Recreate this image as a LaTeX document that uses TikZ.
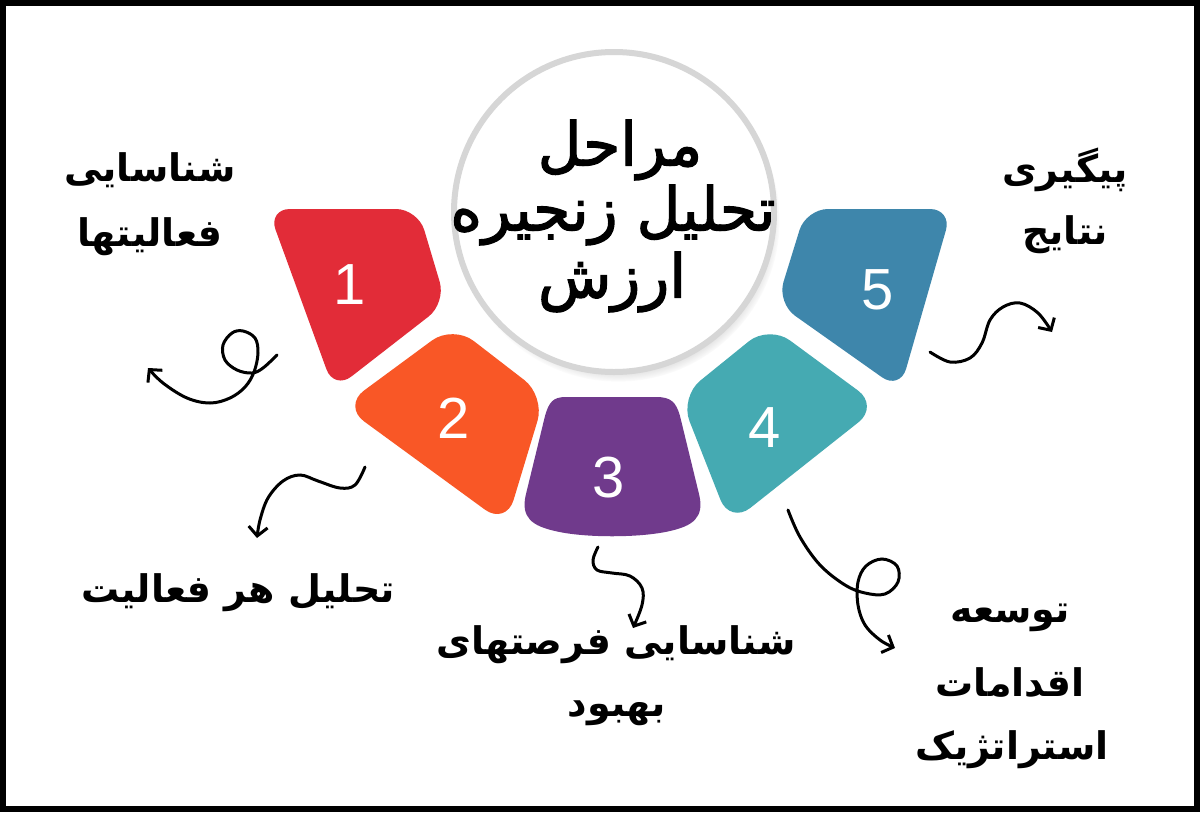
\documentclass[tikz,border=0pt]{standalone}
\usepackage{fontspec}
\usetikzlibrary{arrows.meta,shadows}
\TeXXeTstate=1
\newfontfamily\fa[Script=Arabic]{DejaVu Sans}
\newfontfamily\fatitle[Script=Arabic,FakeBold=2.2]{DejaVu Sans}
\newfontfamily\numfont{Liberation Sans}
\definecolor{cred}{RGB}{226,44,56}
\definecolor{corange}{RGB}{249,87,38}
\definecolor{cpurple}{RGB}{112,58,140}
\definecolor{cteal}{RGB}{69,170,178}
\definecolor{cblue}{RGB}{62,134,171}
\definecolor{crim}{RGB}{214,214,214}
\tikzset{
  segnum/.style={text=white,font=\numfont\fontsize{58}{60}\selectfont},
  lbl/.style={font=\fa\bfseries\fontsize{38}{42}\selectfont,text=black},
  title/.style={font=\fatitle\fontsize{60}{66}\selectfont,text=black},
  curly/.style={line width=3pt,line cap=round,-{Straight Barb[length=9pt,width=19pt,line width=3pt]}},
}
\begin{document}
\begin{tikzpicture}[x=1pt,y=-1pt]
\useasboundingbox (0,0) rectangle (1200,812);
\fill[white] (0,0) rectangle (1200,812);
\draw[line width=6pt] (3,3) rectangle (1197,809);

% segments
\fill[cred,rounded corners=22pt] (268,209) -- (418,209) -- (446,303) -- (334,390) -- cycle;
\fill[corange,rounded corners=26pt] (453,325) -- (545,396) -- (506,525) -- (343,406) -- cycle;
\fill[cpurple] (566,397) -- (656,397) .. controls (671,397) and (676,402) .. (680,416) -- (699,494) .. controls (705,518) and (692,526) .. (670,531) .. controls (640,538) and (584,538) .. (555,531) .. controls (533,526) and (520,518) .. (526,494) -- (545,416) .. controls (549,402) and (553,397) .. (566,397) -- cycle;
\fill[cteal,rounded corners=26pt] (769,325) -- (879,406) -- (730,524) -- (680,397) -- cycle;
\fill[cblue,rounded corners=22pt] (806,209) -- (952,209) -- (900,390) -- (777,303) -- cycle;

\node[segnum] (n1) at (350,285) {1};
\node[segnum] (n2) at (454,418) {2};
\node[segnum] (n3) at (609,478) {3};
\node[segnum] (n4) at (765,428) {4};
\node[segnum] (n5) at (878,290) {5};

% center circle
\node[circle,minimum size=320pt,fill=white,draw=crim,line width=6pt,
  circular drop shadow={shadow xshift=4pt,shadow yshift=-8pt,shadow scale=1.01,opacity=0.55}] (c) at (614,212) {};
\node[title] (t1) at (620,150) {\beginR مراحل\endR};
\node[title] (t2) at (613,215) {\beginR تحلیل زنجیره\endR};
\node[title] (t3) at (612,282) {\beginR ارزش\endR};

% labels
\node[lbl] (l1a) at (150,170) {\beginR شناسایی\endR};
\node[lbl] (l1b) at (150,237) {\beginR فعالیتها\endR};
\node[lbl] (l2) at (238,593) {\beginR تحلیل هر فعالیت\endR};
\node[lbl] (l3a) at (616,645) {\beginR شناسایی فرصتهای\endR};
\node[lbl] (l3b) at (617,713) {\beginR بهبود\endR};
\node[lbl] (l4a) at (1010,618) {\beginR توسعه\endR};
\node[lbl] (l4b) at (1010,683) {\beginR اقدامات\endR};
\node[lbl] (l4c) at (1012,750) {\beginR استراتژیک\endR};
\node[lbl] (l5a) at (1065,170) {\beginR پیگیری\endR};
\node[lbl] (l5b) at (1065,235) {\beginR نتایج\endR};

% curly arrows
\draw[curly] plot[smooth,tension=0.6] coordinates {(277,355) (263,368) (252,373) (237,370) (225,360) (223,345) (232,333) (243,331) (255,338) (258,353) (254,372) (245,387) (230,398) (210,403) (187,398) (163,383) (148,368)};
\draw[curly] plot[smooth,tension=0.6] coordinates {(365,467) (355,485) (340,488) (318,481) (300,475) (283,481) (268,498) (260,520) (257,538)};
\draw[curly] plot[smooth,tension=0.6] coordinates {(598,547) (593,560) (597,570) (612,573) (630,576) (642,588) (642,605) (633,628)};
\draw[curly] plot[smooth,tension=0.6] coordinates {(788,510) (800,537) (820,565) (845,585) (865,593) (885,594) (898,582) (897,566) (882,559) (866,566) (858,582) (858,605) (865,625) (880,640) (895,648)};
\draw[curly] plot[smooth,tension=0.6] coordinates {(930,352) (950,362) (970,358) (982,343) (990,320) (1003,307) (1020,303) (1038,313) (1052,332)};
\end{tikzpicture}
\end{document}
